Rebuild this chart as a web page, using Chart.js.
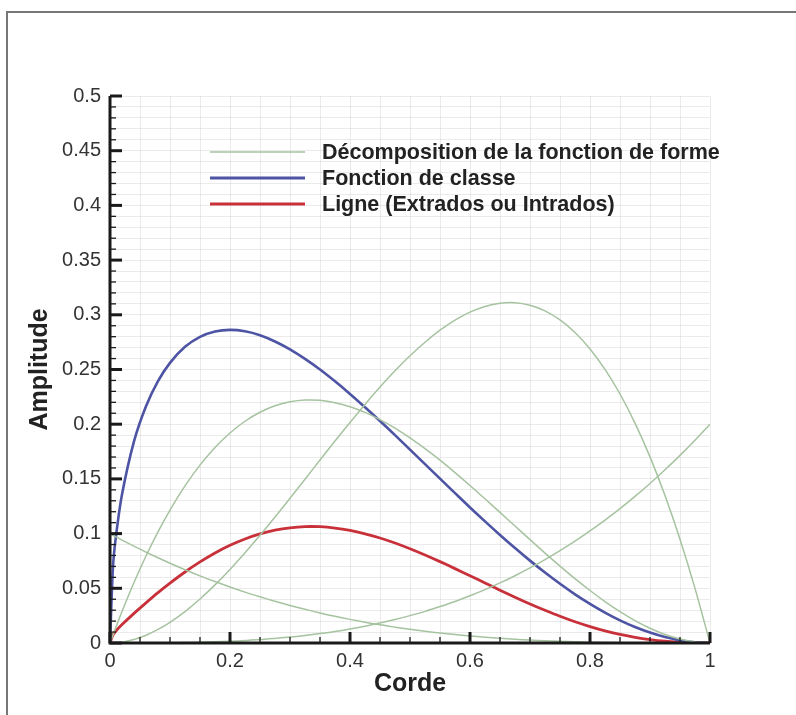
<!DOCTYPE html>
<html>
<head>
<meta charset="utf-8">
<script src="https://cdn.jsdelivr.net/npm/chart.js@4"></script>
<style>
  body { margin:0; background:#fff; }
  #wrap { position:relative; width:796px; height:715px; }
  #frame { position:absolute; left:6px; top:11px; right:0; bottom:0; border-left:2px solid #777; border-top:2px solid #777; pointer-events:none; }
</style>
</head>
<body>
<div id="wrap">
  <canvas id="chart" width="796" height="715"></canvas>
  <div id="frame"></div>
</div>
<script>
// abscisse (corde)
const corde = [0, 0.005, 0.01, 0.02, 0.04, 0.06, 0.08,
    0.1, 0.125, 0.15, 0.175, 0.2, 0.225, 0.25, 0.275, 0.3, 0.325, 0.35, 0.375, 0.4, 0.425, 0.45, 0.475,
    0.5, 0.525, 0.55, 0.575, 0.6, 0.625, 0.65, 0.675, 0.7, 0.725, 0.75, 0.775, 0.8, 0.825, 0.85, 0.875,
    0.9, 0.925, 0.95, 0.975, 1];

// décomposition de la fonction de forme (4 composantes)
const forme0 = [0.1, 0.0985, 0.097, 0.0941, 0.0885, 0.0831, 0.0779,
    0.0729, 0.067, 0.0614, 0.0562, 0.0512, 0.0465, 0.0422, 0.0381, 0.0343, 0.0308, 0.0275, 0.0244, 0.0216, 0.019, 0.0166, 0.0145,
    0.0125, 0.0107, 0.0091, 0.0077, 0.0064, 0.0053, 0.0043, 0.0034, 0.0027, 0.0021, 0.0016, 0.0011, 0.0008, 0.0005, 0.0003, 0.0002,
    0.0001, 0, 0, 0, 0];
const forme1 = [0, 0.0074, 0.0147, 0.0288, 0.0553, 0.0795, 0.1016,
    0.1215, 0.1436, 0.1626, 0.1787, 0.192, 0.2027, 0.2109, 0.2168, 0.2205, 0.2221, 0.2218, 0.2197, 0.216, 0.2108, 0.2042, 0.1964,
    0.1875, 0.1777, 0.1671, 0.1558, 0.144, 0.1318, 0.1194, 0.1069, 0.0945, 0.0822, 0.0703, 0.0588, 0.048, 0.0379, 0.0287, 0.0205,
    0.0135, 0.0078, 0.0036, 0.0009, 0];
const forme2 = [0, 0.0001, 0.0002, 0.0008, 0.0032, 0.0071, 0.0124,
    0.0189, 0.0287, 0.0402, 0.0531, 0.0672, 0.0824, 0.0984, 0.1151, 0.1323, 0.1497, 0.1672, 0.1846, 0.2016, 0.2181, 0.2339, 0.2488,
    0.2625, 0.2749, 0.2859, 0.2951, 0.3024, 0.3076, 0.3105, 0.311, 0.3087, 0.3036, 0.2953, 0.2838, 0.2688, 0.2501, 0.2276, 0.201,
    0.1701, 0.1348, 0.0948, 0.0499, 0];
const forme3 = [0, 0, 0, 0, 0, 0, 0.0001,
    0.0002, 0.0004, 0.0007, 0.0011, 0.0016, 0.0023, 0.0031, 0.0042, 0.0054, 0.0069, 0.0086, 0.0105, 0.0128, 0.0154, 0.0182, 0.0214,
    0.025, 0.0289, 0.0333, 0.038, 0.0432, 0.0488, 0.0549, 0.0615, 0.0686, 0.0762, 0.0844, 0.0931, 0.1024, 0.1123, 0.1228, 0.134,
    0.1458, 0.1583, 0.1715, 0.1854, 0.2];

// fonction de classe
const classe = [0, 0.07, 0.098, 0.1358, 0.1843, 0.2164, 0.2394,
    0.2561, 0.2707, 0.2798, 0.2847, 0.2862, 0.2849, 0.2813, 0.2756, 0.2684, 0.2597, 0.25, 0.2392, 0.2277, 0.2155, 0.2029, 0.19,
    0.1768, 0.1635, 0.1502, 0.137, 0.1239, 0.1112, 0.0988, 0.0868, 0.0753, 0.0644, 0.0541, 0.0445, 0.0358, 0.0278, 0.0207, 0.0146,
    0.0095, 0.0054, 0.0024, 0.0006, 0];

// ligne (extrados ou intrados)
const ligne = [0, 0.0074, 0.011, 0.0168, 0.0271, 0.0367, 0.046,
    0.0547, 0.0649, 0.0741, 0.0823, 0.0893, 0.0951, 0.0997, 0.1031, 0.1053, 0.1064, 0.1063, 0.1051, 0.1029, 0.0998, 0.096, 0.0914,
    0.0862, 0.0805, 0.0744, 0.068, 0.0615, 0.0549, 0.0483, 0.0419, 0.0357, 0.0299, 0.0244, 0.0194, 0.015, 0.0111, 0.0079, 0.0052,
    0.0031, 0.0016, 0.0007, 0.0001, 0];

const legendLabels = ['Décomposition de la fonction de forme', 'Fonction de classe', 'Ligne (Extrados ou Intrados)'];

const VERT = '#a6c3a0';
const BLEU = '#4d54a4';
const ROUGE = '#c8303a';

const pts = (ys) => corde.map((x, i) => ({ x: x, y: ys[i] }));

function serie(ys, color, width) {
    return {
        data: pts(ys),
        borderColor: color,
        borderWidth: width,
        pointRadius: 0,
        fill: false,
        tension: 0.3
    };
}

// axes noirs + graduations vers l'intérieur + légende
const axesPlugin = {
    id: 'axesPlugin',
    afterDatasetsDraw(chart) {
        const { ctx, chartArea: a, scales: { x, y } } = chart;
        ctx.save();
        ctx.strokeStyle = '#1a1a1a';
        ctx.lineCap = 'butt';

        // graduations y
        y.ticks.forEach(t => {
            const major = Math.round(t.value * 100) % 5 === 0;
            const py = y.getPixelForValue(t.value);
            ctx.lineWidth = major ? 3 : 1.3;
            ctx.beginPath();
            ctx.moveTo(a.left, py);
            ctx.lineTo(a.left + (major ? 12 : 6), py);
            ctx.stroke();
        });
        // graduations x
        x.ticks.forEach(t => {
            const major = Math.round(t.value * 100) % 20 === 0;
            const px = x.getPixelForValue(t.value);
            ctx.lineWidth = major ? 3 : 1.3;
            ctx.beginPath();
            ctx.moveTo(px, a.bottom);
            ctx.lineTo(px, a.bottom - (major ? 11 : 6));
            ctx.stroke();
        });

        // axes
        ctx.lineWidth = 3;
        ctx.beginPath();
        ctx.moveTo(a.left, a.top);
        ctx.lineTo(a.left, a.bottom);
        ctx.lineTo(a.right, a.bottom);
        ctx.stroke();

        // légende
        const colors = [VERT, BLEU, ROUGE];
        const widths = [1.5, 3, 3];
        ctx.font = 'bold 21.5px "Liberation Sans", Arial, sans-serif';
        ctx.textBaseline = 'middle';
        ctx.fillStyle = '#222';
        legendLabels.forEach((lab, i) => {
            const ly = 152 + i * 26;
            ctx.strokeStyle = colors[i];
            ctx.lineWidth = widths[i];
            ctx.beginPath();
            ctx.moveTo(210, ly);
            ctx.lineTo(305, ly);
            ctx.stroke();
            ctx.fillText(lab, 322, ly + 1);
        });
        ctx.restore();
    }
};

new Chart(document.getElementById('chart'), {
    type: 'line',
    data: {
        datasets: [
            serie(forme0, VERT, 1.5),
            serie(forme1, VERT, 1.5),
            serie(forme2, VERT, 1.5),
            serie(forme3, VERT, 1.5),
            serie(classe, BLEU, 2.6),
            serie(ligne, ROUGE, 2.8)
        ]
    },
    options: {
        responsive: false,
        animation: false,
        layout: { padding: { left: 0, top: 96, right: 86, bottom: 0 } },
        plugins: { legend: { display: false }, tooltip: { enabled: false } },
        scales: {
            x: {
                type: 'linear',
                min: 0,
                max: 1,
                afterFit: (s) => { s.height = 72; },
                border: { display: false },
                grid: { color: 'rgba(0,0,0,0.08)', lineWidth: 1, drawTicks: false },
                ticks: {
                    stepSize: 0.05,
                    autoSkip: false,
                    maxRotation: 0,
                    maxTicksLimit: 100,
                    padding: 6,
                    color: '#333',
                    font: { family: '"Liberation Sans", Arial, sans-serif', size: 20 },
                    callback: (v) => Math.round(v * 100) % 20 === 0 ? String(Math.round(v * 10) / 10) : ''
                },
                title: {
                    display: true,
                    text: 'Corde',
                    color: '#222',
                    padding: { top: 0, bottom: 16 },
                    font: { family: '"Liberation Sans", Arial, sans-serif', size: 25, weight: 'bold' }
                }
            },
            y: {
                min: 0,
                max: 0.5,
                afterFit: (s) => { s.width = 110; },
                border: { display: false },
                grid: { color: 'rgba(0,0,0,0.08)', lineWidth: 1, drawTicks: false },
                ticks: {
                    stepSize: 0.01,
                    autoSkip: false,
                    maxTicksLimit: 100,
                    padding: 9,
                    color: '#333',
                    font: { family: '"Liberation Sans", Arial, sans-serif', size: 20 },
                    callback: (v) => Math.round(v * 100) % 5 === 0 ? String(Math.round(v * 100) / 100) : ''
                },
                title: {
                    display: true,
                    text: 'Amplitude',
                    color: '#222',
                    padding: { top: 25, bottom: 0 },
                    font: { family: '"Liberation Sans", Arial, sans-serif', size: 25, weight: 'bold' }
                }
            }
        }
    },
    plugins: [axesPlugin]
});
</script>
</body>
</html>
